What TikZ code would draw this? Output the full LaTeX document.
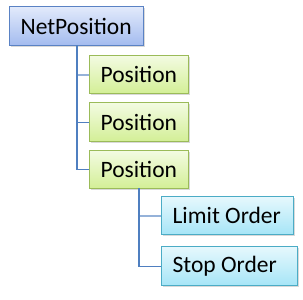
\documentclass[tikz,border=0pt]{standalone}
\usepackage{fontspec}
\setmainfont{Carlito}
\usetikzlibrary{shadows}
\definecolor{bluetop}{HTML}{E2EAFB}
\definecolor{bluebot}{HTML}{A3BBEF}
\definecolor{blueedge}{HTML}{5A82C4}
\definecolor{greentop}{HTML}{F3FBE2}
\definecolor{greenbot}{HTML}{D3EF96}
\definecolor{greenedge}{HTML}{9BBB59}
\definecolor{cyantop}{HTML}{E6F8FD}
\definecolor{cyanbot}{HTML}{A6E5F7}
\definecolor{cyanedge}{HTML}{4BACC6}
\definecolor{linkcol}{HTML}{4F7FC0}
\tikzset{
  box/.style={draw, line width=1.2pt, anchor=north west, inner xsep=11pt, inner ysep=0pt,
    align=flush left, font=\fontsize{23.5}{26}\selectfont, text=black,
    drop shadow={shadow xshift=1.5pt, shadow yshift=-1.5pt, opacity=0.3}},
  rootbox/.style={box, draw=blueedge, top color=bluetop, bottom color=bluebot},
  posbox/.style={box, draw=greenedge, top color=greentop, bottom color=greenbot},
  ordbox/.style={box, draw=cyanedge, top color=cyantop, bottom color=cyanbot},
  link/.style={draw=linkcol, line width=1.2pt}
}
\begin{document}
\begin{tikzpicture}[x=1pt,y=-1pt]
\useasboundingbox (0,0) rectangle (303,300);
\node[rootbox, text width=112pt, minimum height=39pt] (net) at (9,6) {\mbox{NetPosition}};
\node[posbox, text width=77pt, minimum height=38pt] (p1) at (89,55) {\mbox{Position}};
\node[posbox, text width=77pt, minimum height=39pt] (p2) at (89,102) {\mbox{Position}};
\node[posbox, text width=77pt, minimum height=38pt] (p3) at (89,150) {\mbox{Position}};
\node[ordbox, text width=110pt, minimum height=38pt] (lo) at (161,196) {\mbox{Limit Order}};
\node[ordbox, text width=114pt, minimum height=39pt] (so) at (161,246) {\mbox{Stop Order}};
\coordinate (nb) at (77,45);
\coordinate (pb) at (139,188);
\draw[link, line width=2pt, draw=linkcol!60] (nb |- p1.west) -- (p1.west);
\draw[link] (nb) |- (p2.west);
\draw[link] (nb) |- (p3.west);
\draw[link, draw=linkcol!60, line width=2pt] (pb |- lo.west) -- (lo.west);
\draw[link] (pb) |- (so.west);
\end{tikzpicture}
\end{document}
